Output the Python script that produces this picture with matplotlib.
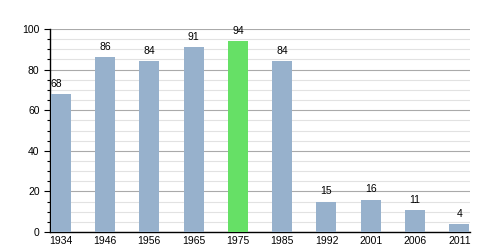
import matplotlib.pyplot as plt
from matplotlib.ticker import MultipleLocator

plt.rcParams['font.family'] = ['Liberation Sans', 'DejaVu Sans']

# Data
years = ['1934', '1946', '1956', '1965', '1975', '1985', '1992', '2001', '2006', '2011']
values = [68, 86, 84, 91, 94, 84, 15, 16, 11, 4]
highlight = '1975'

blue = '#97b1cc'
green = '#66e066'
colors = [green if y == highlight else blue for y in years]

fig = plt.figure(figsize=(5, 2.5), dpi=100)
ax = fig.add_axes([0.1, 0.072, 0.84, 0.812])

x = range(len(years))
ax.bar(x, values, width=0.45, color=colors, zorder=3)

for xi, v in zip(x, values):
    # first label is nudged right so it stays clear of the axis
    xt = xi - 0.1 if xi == 0 else xi
    ax.text(xt, v + 2.5, str(v), ha='center', va='bottom', fontsize=7.5, zorder=4)

ax.set_xlim(-0.24, 9.24)
ax.set_ylim(0, 100)
ax.set_xticks(list(x))
ax.set_xticklabels(years, fontsize=7.5)
ax.yaxis.set_major_locator(MultipleLocator(20))
ax.yaxis.set_minor_locator(MultipleLocator(5))
ax.tick_params(axis='y', labelsize=7.5, length=4, width=0.8)
ax.tick_params(axis='y', which='minor', length=2.5, width=0.8)
ax.tick_params(axis='x', length=0, pad=3)

ax.grid(axis='y', which='major', color='#aaaaaa', linewidth=0.8, zorder=0)
ax.grid(axis='y', which='minor', color='#e2e2e2', linewidth=0.8, zorder=0)

ax.spines['top'].set_visible(False)
ax.spines['right'].set_visible(False)
ax.spines['left'].set_linewidth(1)
ax.spines['bottom'].set_linewidth(1)

plt.savefig('out.png', dpi=100)
